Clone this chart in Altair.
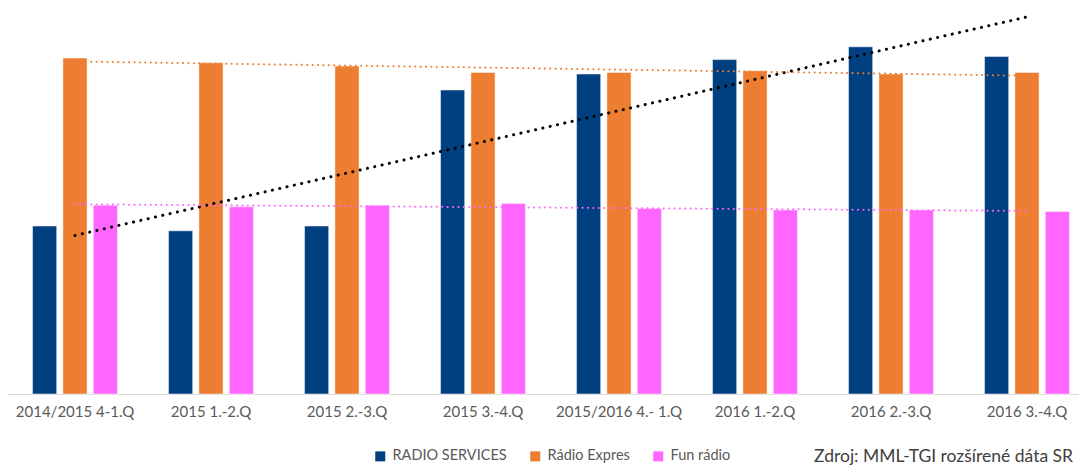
import altair as alt
import pandas as pd

CATEGORIES = [
    "2014/2015 4-1.Q", "2015 1.-2.Q", "2015 2.-3.Q", "2015 3.-4.Q",
    "2015/2016 4.- 1.Q", "2016 1.-2.Q", "2016 2.-3.Q", "2016 3.-4.Q",
]
SERIES = ["RADIO SERVICES", "Rádio Expres", "Fun rádio"]
RADIO_SERVICES = [10.5, 10.2, 10.5, 19.0, 20.0, 20.9, 21.7, 21.1]
RADIO_EXPRES = [21.0, 20.7, 20.5, 20.1, 20.1, 20.2, 20.0, 20.1]
FUN_RADIO = [11.8, 11.7, 11.8, 11.9, 11.6, 11.5, 11.5, 11.4]
BAR_COLORS = ["#004080", "#ED7D31", "#FF66FF"]
TREND_COLORS = ["#000000", "#ED7D31", "#FF66FF"]
SOURCE = "Zdroj: MML-TGI rozšírené dáta SR"

rows = []
for s, vals in zip(SERIES, [RADIO_SERVICES, RADIO_EXPRES, FUN_RADIO]):
    for i, (c, v) in enumerate(zip(CATEGORIES, vals)):
        rows.append({"category": c, "idx": i, "series": s, "value": v})
df = pd.DataFrame(rows)

Y_MAX = 24.125
y_scale = alt.Scale(domain=[0, Y_MAX], nice=False, zero=True)
FONT = "Lato"

bars = alt.Chart(df).mark_bar(stroke="white", strokeWidth=1, strokeOpacity=0.5).encode(
    x=alt.X(
        "category:N", sort=CATEGORIES,
        scale=alt.Scale(paddingInner=0.375, paddingOuter=0.1875),
        axis=alt.Axis(title=None, labelAngle=0, ticks=False, domainColor="#d9d9d9",
                      domainWidth=1, labelColor="#595959", labelFont=FONT,
                      labelFontSize=15, labelPadding=10, grid=False),
    ),
    xOffset=alt.XOffset("series:N", sort=SERIES,
                        scale=alt.Scale(paddingInner=0.204, paddingOuter=0)),
    y=alt.Y("value:Q", scale=y_scale, axis=None),
    color=alt.Color(
        "series:N", sort=SERIES,
        scale=alt.Scale(domain=SERIES, range=BAR_COLORS),
        legend=alt.Legend(title=None, orient="none", direction="horizontal",
                          legendX=366, legendY=441, symbolType="square",
                          symbolSize=100, symbolStrokeWidth=0, labelFont=FONT,
                          labelFontSize=14.5, labelColor="#595959",
                          columnPadding=21, labelOffset=5),
    ),
)

trend_layers = []
for s, col, w, dash in zip(SERIES, TREND_COLORS, [3, 2, 2],
                           [[0.1, 7.4], [0.1, 5.3], [0.1, 5.3]]):
    trend_layers.append(
        alt.Chart(df)
        .transform_filter(alt.datum.series == s)
        .transform_regression("idx", "value", method="linear", extent=[0, 7])
        .mark_line(color=col, strokeWidth=w, strokeDash=dash, strokeCap="round")
        .encode(
            x=alt.X("idx:Q", scale=alt.Scale(domain=[-0.5, 7.5], nice=False,
                                             zero=False), axis=None),
            y=alt.Y("value:Q", scale=y_scale, axis=None),
        )
    )

src = alt.Chart(pd.DataFrame({"t": [SOURCE]})).mark_text(
    align="left", baseline="alphabetic", font=FONT, fontSize=17.5, color="#404040"
).encode(x=alt.value(807), y=alt.value(454), text="t:N")

chart = alt.layer(bars, *trend_layers, src).resolve_scale(
    x="independent"
).properties(
    width=1088, height=386,
    autosize=alt.AutoSizeParams(type="none"),
    padding={"left": -1, "right": -16, "top": 0, "bottom": 72},
).configure_view(stroke=None)

chart.save("out.html", embed_options={"renderer": "svg", "actions": False})
